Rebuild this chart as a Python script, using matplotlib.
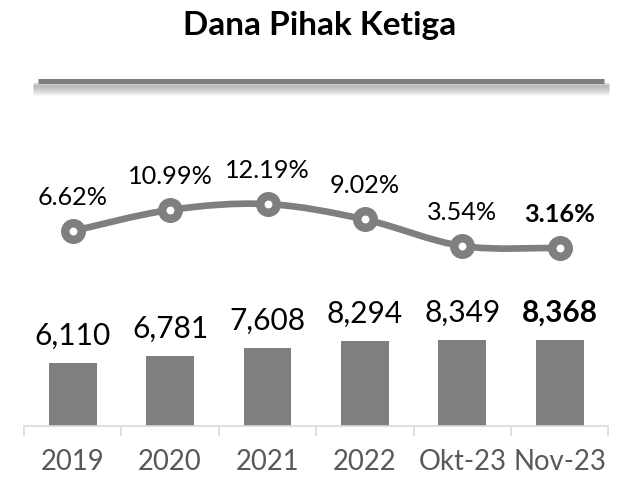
import matplotlib
matplotlib.use("Agg")
import matplotlib.pyplot as plt
from matplotlib.path import Path
from matplotlib.patches import PathPatch
from matplotlib.lines import Line2D
import numpy as np

categories = ["2019", "2020", "2021", "2022", "Okt-23", "Nov-23"]
dpk_values = [6110, 6781, 7608, 8294, 8349, 8368]
growth_pct = [6.62, 10.99, 12.19, 9.02, 3.54, 3.16]
bar_labels = ["6,110", "6,781", "7,608", "8,294", "8,349", "8,368"]
growth_labels = ["6.62%", "10.99%", "12.19%", "9.02%", "3.54%", "3.16%"]
title = "Dana Pihak Ketiga"

GREY = "#7f7f7f"
AXIS = "#d9d9d9"
TICK = "#595959"

plt.rcParams['font.family'] = ['Lato', 'DejaVu Sans']

W, H = 631, 479
fig = plt.figure(figsize=(W / 100, H / 100), dpi=100)

left_px, right_px = 24, 608.4
bottom_px, top_px = 426, 120
ax = fig.add_axes([left_px / W, 1 - bottom_px / H, (right_px - left_px) / W, (bottom_px - top_px) / H])
ax_h = bottom_px - top_px

x = np.arange(len(categories))
ax.bar(x, dpk_values, width=0.49, color=GREY, zorder=2)
ax.set_xlim(-0.5, len(categories) - 0.5)
ax.set_ylim(0, 8368 * ax_h / 86)

for s in ["left", "right", "top"]:
    ax.spines[s].set_visible(False)
ax.spines["bottom"].set_color(AXIS)
ax.spines["bottom"].set_linewidth(1.2)
ax.set_yticks([])
ax.set_xticks(x)
ax.set_xticklabels(categories, fontsize=19.8, color=TICK)
ax.tick_params(axis="x", which="major", length=0, pad=16.5)
ax.set_xticks(np.arange(-0.5, len(categories), 1.0), minor=True)
ax.tick_params(axis="x", which="minor", length=7.2, width=1.2, color=AXIS, direction="out")

for i, (v, lab) in enumerate(zip(dpk_values, bar_labels)):
    ax.annotate(lab, (x[i], v), xytext=(0, 13), textcoords="offset points",
                ha="center", va="baseline", fontsize=21.5, color="#000000",
                fontweight="bold" if i == len(categories) - 1 else "normal")

# secondary axis for growth line
ax2 = ax.twinx()
scale = 4.85
zero_from_bottom = bottom_px - 263.2
ax2.set_ylim(-zero_from_bottom / scale, (ax_h - zero_from_bottom) / scale)
ax2.set_xlim(-0.5, len(categories) - 0.5)
for s in ax2.spines.values():
    s.set_visible(False)
ax2.set_yticks([])

# smoothed line (Bezier through data points, like a spreadsheet smooth line)
pts = np.column_stack([x, growth_pct]).astype(float)
verts = [tuple(pts[0])]
codes = [Path.MOVETO]
n = len(pts)
for i in range(n - 1):
    p0 = pts[i - 1] if i > 0 else pts[i]
    p1 = pts[i]
    p2 = pts[i + 1]
    p3 = pts[i + 2] if i + 2 < n else pts[i + 1]
    c1 = p1 + (p2 - p0) / 6.0
    c2 = p2 - (p3 - p1) / 6.0
    verts += [tuple(c1), tuple(c2), tuple(p2)]
    codes += [Path.CURVE4, Path.CURVE4, Path.CURVE4]
patch = PathPatch(Path(verts, codes), facecolor="none", edgecolor=GREY, lw=4.8,
                  capstyle="round", joinstyle="round", zorder=3)
ax2.add_patch(patch)
ax2.plot(x, growth_pct, linestyle="none", marker="o", markersize=11.9,
         markerfacecolor="white", markeredgecolor=GREY, markeredgewidth=6.1, zorder=4)

for i, (v, lab) in enumerate(zip(growth_pct, growth_labels)):
    ax2.annotate(lab, (x[i], v), xytext=(0, 18.7), textcoords="offset points",
                 ha="center", va="baseline", fontsize=18.2, color="#000000",
                 fontweight="bold" if i == len(categories) - 1 else "normal")

# title
fig.text(320 / W, 1 - 35 / H, title, ha="center", va="baseline",
         fontsize=24, fontweight="bold", color="#000000")

# decorative separator line with soft shadow
for k in range(12):
    off = 3 + k * 1.0
    a = 0.10 * (1 - k / 12)
    fig.add_artist(Line2D([33 / W, 609 / W], [1 - (81 + off) / H, 1 - (81 + off) / H],
                          transform=fig.transFigure, color="#000000", alpha=a, lw=2.5,
                          solid_capstyle="butt"))
fig.add_artist(Line2D([38 / W, 604 / W], [1 - 80.8 / H, 1 - 80.8 / H],
                      transform=fig.transFigure, color=GREY, lw=3.6, solid_capstyle="butt"))

fig.savefig("out.png", dpi=100, facecolor="white")
